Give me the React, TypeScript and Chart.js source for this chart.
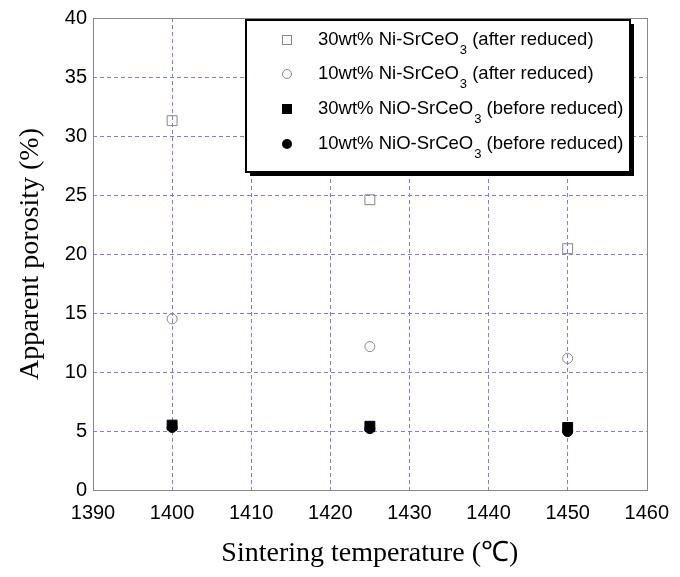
import React, { useEffect, useRef } from "react";
import { Chart, registerables } from "chart.js";

Chart.register(...registerables);

const temperatures = [1400, 1425, 1450];
const ni30After = [31.3, 24.6, 20.45];
const ni10After = [14.5, 12.15, 11.15];
const nio30Before = [5.5, 5.4, 5.3];
const nio10Before = [5.3, 5.2, 4.95];

const xTicks = [1390, 1400, 1410, 1420, 1430, 1440, 1450, 1460];
const yTicks = [0, 5, 10, 15, 20, 25, 30, 35, 40];

const legendItems = [
  { pre: "30wt% Ni-SrCeO", sub: "3", post: " (after reduced)", style: "rect", fill: false },
  { pre: "10wt% Ni-SrCeO", sub: "3", post: " (after reduced)", style: "circle", fill: false },
  { pre: "30wt% NiO-SrCeO", sub: "3", post: " (before reduced)", style: "rect", fill: true },
  { pre: "10wt% NiO-SrCeO", sub: "3", post: " (before reduced)", style: "circle", fill: true },
];

const SANS = "Arial, 'Liberation Sans', sans-serif";
const SERIF = "'Times New Roman', 'Liberation Serif', serif";

const framePlugin = {
  id: "frameAndLegend",
  afterDraw(chart: any) {
    const { ctx, chartArea } = chart;
    ctx.save();
    ctx.strokeStyle = "#888888";
    ctx.lineWidth = 1;
    ctx.setLineDash([]);
    ctx.strokeRect(
      Math.round(chartArea.left) + 0.5,
      Math.round(chartArea.top) + 0.5,
      Math.round(chartArea.right - chartArea.left),
      Math.round(chartArea.bottom - chartArea.top)
    );
    const bx = 246, by = 20, bw = 384, bh = 152;
    ctx.fillStyle = "#000";
    ctx.fillRect(bx + 4, by + 4, bw, bh);
    ctx.fillStyle = "#fff";
    ctx.fillRect(bx, by, bw, bh);
    ctx.strokeStyle = "#000";
    ctx.lineWidth = 2;
    ctx.strokeRect(bx, by, bw, bh);
    const rows = [40, 74, 109, 144];
    legendItems.forEach((it, i) => {
      const y = rows[i];
      const mx = 287;
      ctx.lineWidth = 1;
      if (it.style === "rect") {
        if (it.fill) {
          ctx.fillStyle = "#000";
          ctx.fillRect(mx - 5, y - 5, 10, 10);
        } else {
          ctx.strokeStyle = "#888";
          ctx.strokeRect(mx - 4.5, y - 4.5, 9, 9);
        }
      } else {
        ctx.beginPath();
        ctx.arc(mx, y, it.fill ? 5 : 4.5, 0, Math.PI * 2);
        if (it.fill) {
          ctx.fillStyle = "#000";
          ctx.fill();
        } else {
          ctx.strokeStyle = "#888";
          ctx.stroke();
        }
      }
      ctx.fillStyle = "#000";
      ctx.textBaseline = "middle";
      ctx.textAlign = "left";
      ctx.font = `18.5px ${SANS}`;
      let x = 318;
      ctx.fillText(it.pre, x, y);
      x += ctx.measureText(it.pre).width;
      ctx.font = `13px ${SANS}`;
      ctx.fillText(it.sub, x + 1, y + 10);
      x += ctx.measureText(it.sub).width + 1;
      ctx.font = `18.5px ${SANS}`;
      ctx.fillText(it.post, x, y);
    });
    ctx.restore();
  },
};

function toPoints(vals: number[]) {
  return temperatures.map((t, i) => ({ x: t, y: vals[i] }));
}

export default function App() {
  const ref = useRef<HTMLCanvasElement>(null);
  useEffect(() => {
    if (!ref.current) return;
    const gridColor = (ctx: any) => {
      const v = ctx.tick ? ctx.tick.value : null;
      const scale = ctx.scale;
      if (v === scale.min || v === scale.max) return "rgba(0,0,0,0)";
      return "#7b7bf0";
    };
    const chart = new Chart(ref.current, {
      type: "scatter",
      data: {
        datasets: [
          {
            label: "30wt% Ni-SrCeO3 (after reduced)",
            data: toPoints(ni30After),
            pointStyle: "rect",
            pointRadius: 7,
            pointBackgroundColor: "rgba(0,0,0,0)",
            pointBorderColor: "#888",
            pointBorderWidth: 1,
          },
          {
            label: "10wt% Ni-SrCeO3 (after reduced)",
            data: toPoints(ni10After),
            pointStyle: "circle",
            pointRadius: 5,
            pointBackgroundColor: "rgba(0,0,0,0)",
            pointBorderColor: "#888",
            pointBorderWidth: 1,
          },
          {
            label: "30wt% NiO-SrCeO3 (before reduced)",
            data: toPoints(nio30Before),
            pointStyle: "rect",
            pointRadius: 7,
            pointBackgroundColor: "#000",
            pointBorderColor: "#000",
            pointBorderWidth: 1,
          },
          {
            label: "10wt% NiO-SrCeO3 (before reduced)",
            data: toPoints(nio10Before),
            pointStyle: "circle",
            pointRadius: 5,
            pointBackgroundColor: "#000",
            pointBorderColor: "#000",
            pointBorderWidth: 1,
          },
        ],
      },
      options: {
        animation: false,
        responsive: false,
        maintainAspectRatio: false,
        layout: { padding: { top: 13, right: 25, left: 0, bottom: 0 } },
        plugins: { legend: { display: false }, tooltip: { enabled: false } },
        scales: {
          x: {
            type: "linear",
            min: xTicks[0],
            max: xTicks[xTicks.length - 1],
            afterBuildTicks: (s: any) => {
              s.ticks = xTicks.map((v) => ({ value: v }));
            },
            afterFit: (s: any) => {
              s.height = 87;
            },
            ticks: {
              color: "#000",
              font: { family: SANS, size: 20 },
              padding: 11,
              maxRotation: 0,
              callback: (v: any) => String(v),
            },
            grid: {
              color: gridColor,
              lineWidth: 1,
              drawTicks: false,
            },
            border: { display: false, dash: [4, 3] },
            title: {
              display: true,
              text: "Sintering temperature (℃)",
              color: "#000",
              font: { family: SERIF, size: 28 },
              padding: { top: 0, bottom: 7 },
            },
          },
          y: {
            type: "linear",
            min: yTicks[0],
            max: yTicks[yTicks.length - 1],
            afterBuildTicks: (s: any) => {
              s.ticks = yTicks.map((v) => ({ value: v }));
            },
            afterFit: (s: any) => {
              s.width = 93;
            },
            ticks: {
              color: "#000",
              font: { family: SANS, size: 20 },
              padding: 6,
              callback: (v: any) => String(v),
            },
            grid: {
              color: gridColor,
              lineWidth: 1,
              drawTicks: false,
            },
            border: { display: false, dash: [4, 3] },
            title: {
              display: true,
              text: "Apparent porosity (%)",
              color: "#000",
              font: { family: SERIF, size: 28 },
              padding: { top: 14, bottom: 0 },
            },
          },
        },
      },
      plugins: [framePlugin],
    });
    return () => chart.destroy();
  }, []);
  return (
    <div style={{ position: "fixed", left: 0, top: 0, width: 680, height: 577, background: "#fff" }}>
      <canvas ref={ref} width={680} height={577} style={{ width: 680, height: 577 }} />
    </div>
  );
}
